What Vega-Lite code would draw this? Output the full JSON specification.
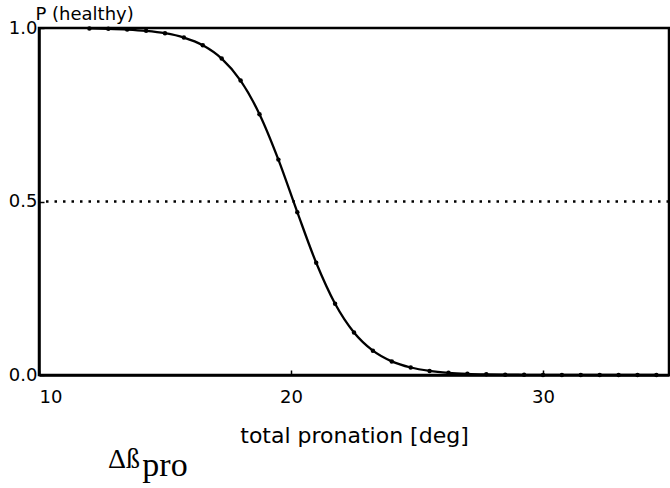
{
  "$schema": "https://vega.github.io/schema/vega-lite/v6.json",
  "width": 630,
  "height": 347,
  "autosize": {"type": "none"},
  "padding": {"left": 39, "top": 28, "right": 1, "bottom": 113},
  "background": "white",
  "config": {
    "view": {"stroke": "black", "strokeWidth": 2.5},
    "axis": {
      "domainColor": "black", "domainWidth": 2.5, "tickColor": "black", "tickWidth": 1.5,
      "labelFont": "DejaVu Sans", "labelFontSize": 18, "labelColor": "black",
      "titleFont": "DejaVu Sans", "titleColor": "black", "titleFontWeight": "normal",
      "grid": false
    }
  },
  "datasets": {
    "curve": [
      {"pronation": 12, "p": 0.9987},
      {"pronation": 12.75, "p": 0.9976},
      {"pronation": 13.5, "p": 0.9956},
      {"pronation": 14.25, "p": 0.9918},
      {"pronation": 15, "p": 0.985},
      {"pronation": 15.75, "p": 0.9725},
      {"pronation": 16.5, "p": 0.9504},
      {"pronation": 17.25, "p": 0.9119},
      {"pronation": 18, "p": 0.8484},
      {"pronation": 18.75, "p": 0.7516},
      {"pronation": 19.5, "p": 0.6207},
      {"pronation": 20.25, "p": 0.4693},
      {"pronation": 21, "p": 0.3234},
      {"pronation": 21.75, "p": 0.2054},
      {"pronation": 22.5, "p": 0.1226},
      {"pronation": 23.25, "p": 0.0702},
      {"pronation": 24, "p": 0.0392},
      {"pronation": 24.75, "p": 0.0216},
      {"pronation": 25.5, "p": 0.0118},
      {"pronation": 26.25, "p": 0.0064},
      {"pronation": 27, "p": 0.0035},
      {"pronation": 27.75, "p": 0.0019},
      {"pronation": 28.5, "p": 0.001},
      {"pronation": 29.25, "p": 0.0006},
      {"pronation": 30, "p": 0.0003},
      {"pronation": 30.75, "p": 0.0002},
      {"pronation": 31.5, "p": 0.0001},
      {"pronation": 32.25, "p": 0.0},
      {"pronation": 33, "p": 0.0},
      {"pronation": 33.75, "p": 0.0},
      {"pronation": 34.5, "p": 0.0}
    ]
  },
  "layer": [
    {
      "data": {"values": [{"level": 0.5}]},
      "mark": {"type": "rule", "color": "black", "strokeWidth": 2.4, "strokeDash": [2.5, 6]},
      "encoding": {"y": {"field": "level", "type": "quantitative", "scale": {"domain": [0, 1]}}}
    },
    {
      "data": {"name": "curve"},
      "mark": {"type": "line", "color": "black", "strokeWidth": 2.3, "interpolate": "monotone"},
      "encoding": {
        "x": {"field": "pronation", "type": "quantitative", "scale": {"domain": [10, 35], "nice": false},
          "axis": {"values": [10, 20, 30], "title": "total pronation [deg]", "titleFontSize": 22,
            "tickSize": -5, "labelPadding": 18, "titleY": 67, "titleBaseline": "alphabetic"}},
        "y": {"field": "p", "type": "quantitative", "scale": {"domain": [0, 1], "nice": false},
          "axis": {"values": [0, 0.5, 1], "format": ".1f", "title": "P (healthy)", "titleFontSize": 18,
            "titleAngle": 0, "titleX": -4, "titleY": -9, "titleAlign": "left", "titleBaseline": "alphabetic",
            "tickSize": -5, "labelPadding": 7}}
      }
    },
    {
      "data": {"name": "curve"},
      "mark": {"type": "point", "filled": true, "color": "black", "size": 20, "opacity": 1},
      "encoding": {
        "x": {"field": "pronation", "type": "quantitative"},
        "y": {"field": "p", "type": "quantitative"}
      }
    },
    {
      "data": {"values": [{"x": 12.74, "y": -0.268, "t": "Δß"}]},
      "mark": {"type": "text", "font": "Liberation Serif", "fontSize": 28, "align": "left", "baseline": "alphabetic", "color": "black", "clip": false},
      "encoding": {
        "x": {"field": "x", "type": "quantitative"},
        "y": {"field": "y", "type": "quantitative"},
        "text": {"field": "t"}
      }
    },
    {
      "data": {"values": [{"x": 14.1, "y": -0.291, "t": "pro"}]},
      "mark": {"type": "text", "font": "Liberation Serif", "fontSize": 34, "align": "left", "baseline": "alphabetic", "color": "black", "clip": false},
      "encoding": {
        "x": {"field": "x", "type": "quantitative"},
        "y": {"field": "y", "type": "quantitative"},
        "text": {"field": "t"}
      }
    }
  ]
}
